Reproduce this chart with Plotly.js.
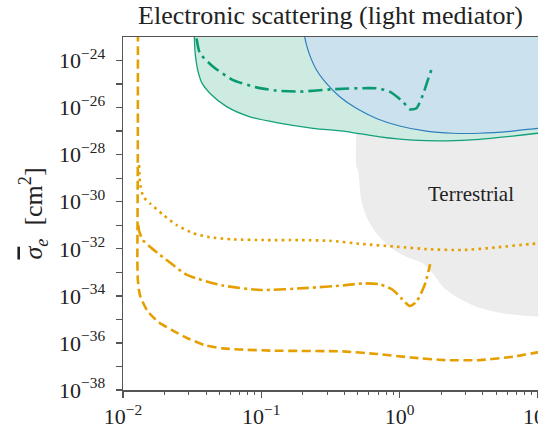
<!DOCTYPE html>
<html>
<head>
<meta charset="utf-8">
<script src="https://cdn.plot.ly/plotly-3.0.1.min.js"></script>
<style>html,body{margin:0;padding:0;background:#fff;overflow:hidden}</style>
</head>
<body>
<div id="chart" style="width:538px;height:429px"></div>
<script>
// All values are log10 of mass (x) and cross-section sigma_e [cm^2] (y)
const dashedLogM = [-1.892, -1.893, -1.895, -1.896, -1.893, -1.884, -1.872, -1.823, -1.749, -1.649, -1.526, -1.401, -1.278, -1.155, -0.906, -0.412, -0.163, 0.084, 0.332, 0.580, 0.828, 0.996, 1.05];
const dashedLogS = [-22.8, -28.0, -31.0, -32.5, -33.3, -33.78, -34.07, -34.65, -35.09, -35.45, -35.82, -36.11, -36.23, -36.28, -36.33, -36.36, -36.47, -36.62, -36.73, -36.73, -36.58, -36.40, -36.34];

const dottedLogM = [-1.884, -1.881, -1.877, -1.853, -1.805, -1.709, -1.613, -1.492, -1.372, -1.204, -0.962, -0.722, -0.505, -0.265, -0.024, 0.217, 0.457, 0.698, 0.939, 1.05];
const dottedLogS = [-28.44, -28.86, -29.22, -29.79, -30.07, -30.56, -30.99, -31.34, -31.51, -31.60, -31.63, -31.63, -31.66, -31.80, -31.91, -32.02, -32.05, -31.94, -31.80, -31.75];

const dashdotLogM = [-1.890, -1.881, -1.856, -1.805, -1.733, -1.637, -1.538, -1.278, -1.005, -0.658, -0.411, -0.265, -0.144, -0.048, 0.012, 0.072, 0.121, 0.181, 0.221];
const dashdotLogS = [-30.99, -31.29, -31.63, -31.91, -32.26, -32.69, -33.11, -33.56, -33.75, -33.66, -33.56, -33.47, -33.51, -33.75, -34.10, -34.43, -34.25, -33.54, -32.65];

const greenDDLogM = [-1.468, -1.444, -1.348, -1.204, -1.035, -0.890, -0.722, -0.482, -0.168, -0.072, 0.024, 0.072, 0.121, 0.168, 0.204, 0.233];
const greenDDLogS = [-23.06, -23.69, -24.26, -24.83, -25.14, -25.28, -25.32, -25.22, -25.18, -25.32, -25.75, -26.07, -26.03, -25.46, -24.83, -24.33];

const greenRegLogM = [-1.485, -1.484, -1.480, -1.472, -1.458, -1.430, -1.372, -1.251, -1.083, -0.890, -0.626, -0.385, -0.144, 0.096, 0.337, 0.578, 0.818, 0.996, 1.1, 1.1, -1.485];
const greenRegLogS = [-22.7, -22.99, -23.55, -24.0, -24.45, -24.95, -25.39, -25.96, -26.39, -26.64, -26.88, -27.02, -27.24, -27.38, -27.41, -27.35, -27.21, -27.09, -27.02, -22.0, -22.0];

const blueRegLogM = [-0.686, -0.686, -0.671, -0.650, -0.601, -0.529, -0.433, -0.313, -0.168, 0.0, 0.193, 0.385, 0.578, 0.818, 0.996, 1.1, 1.1, -0.686];
const blueRegLogS = [-22.7, -22.99, -23.38, -23.77, -24.40, -24.97, -25.54, -26.03, -26.46, -26.78, -27.0, -27.09, -27.09, -27.0, -26.88, -26.83, -22.0, -22.0];

const grayRegLogM = [-0.313, -0.313, -0.301, -0.277, -0.240, -0.168, -0.072, 0.048, 0.168, 0.240, 0.313, 0.409, 0.554, 0.746, 0.939, 0.996, 1.1, 1.1];
const grayRegLogS = [-26.9, -28.51, -28.65, -29.93, -30.64, -31.34, -31.91, -32.34, -32.62, -33.04, -33.61, -34.04, -34.46, -34.74, -34.86, -34.89, -34.91, -26.9];

const xTickExp = [-2, -1, 0, 1];
const xTickText = ["10<sup>−2</sup>", "10<sup>−1</sup>", "10<sup>0</sup>", "10<sup>1</sup>"];
const yTickExp = [-38, -37, -36, -35, -34, -33, -32, -31, -30, -29, -28, -27, -26, -25, -24];
const yTickText = ["10<sup>−38</sup>", "", "10<sup>−36</sup>", "", "10<sup>−34</sup>", "", "10<sup>−32</sup>", "", "10<sup>−30</sup>", "", "10<sup>−28</sup>", "", "10<sup>−26</sup>", "", "10<sup>−24</sup>"];

const titleText = "Electronic scattering (light mediator)";
const yTitleText = "<span style=\"text-decoration:overline\"><i>σ</i></span><sub><i>e</i></sub>  [cm<sup>2</sup>]";
const regionLabel = "Terrestrial";
const regionLabelLogPos = [0.518, -29.65];

const p = v => v.map(e => Math.pow(10, e));

const ORANGE = "#E69F00", GREEN = "#12A07A", BLUE = "#2E7FBC";

const traces = [
  {x: p(grayRegLogM), y: p(grayRegLogS), mode: "lines", fill: "toself", fillcolor: "#ececec", line: {width: 0, color: "#ececec", shape: "spline", smoothing: 0.7}, hoverinfo: "skip"},
  {x: p(greenRegLogM), y: p(greenRegLogS), mode: "lines", fill: "toself", fillcolor: "#cdebe0", line: {width: 1.3, color: GREEN, shape: "spline", smoothing: 0.7}, hoverinfo: "skip"},
  {x: p(blueRegLogM), y: p(blueRegLogS), mode: "lines", fill: "toself", fillcolor: "#cbe2ee", line: {width: 1.2, color: BLUE, shape: "spline", smoothing: 0.7}, hoverinfo: "skip"},
  {x: p(greenDDLogM), y: p(greenDDLogS), mode: "lines", line: {width: 2.6, color: "#0A9A72", dash: "14px,5px,3px,5px", shape: "spline", smoothing: 0.6}},
  {x: p(dottedLogM), y: p(dottedLogS), mode: "lines", line: {width: 2.6, color: ORANGE, dash: "2.6px,4.2px", shape: "spline", smoothing: 0.6}},
  {x: p(dashdotLogM), y: p(dashdotLogS), mode: "lines", line: {width: 2.6, color: ORANGE, dash: "12px,4px,3px,4px", shape: "spline", smoothing: 0.6}},
  {x: p(dashedLogM), y: p(dashedLogS), mode: "lines", line: {width: 2.6, color: ORANGE, dash: "9px,4.5px", shape: "spline", smoothing: 0.5}}
];

const minorX = [];
for (const e of [-2, -1, 0]) for (let k = 2; k <= 9; k++) minorX.push(k * Math.pow(10, e));

const font = "Liberation Serif, Times New Roman, serif";
const layout = {
  width: 538, height: 429,
  margin: {l: 123, r: 0, t: 37, b: 39, pad: 0},
  paper_bgcolor: "#fff", plot_bgcolor: "#fff",
  showlegend: false,
  font: {family: font, color: "#222", size: 22},
  title: {text: titleText, font: {family: font, size: 26, color: "#222"}, x: 0.5, xref: "paper", xanchor: "center", y: 1 - 15 / 429, yref: "container", yanchor: "middle"},
  xaxis: {
    type: "log", range: [-2, 1.0005], showgrid: false, zeroline: false,
    showline: true, linecolor: "#555", linewidth: 1.5, mirror: true,
    ticks: "outside", ticklen: 6, tickwidth: 1.3, tickcolor: "#555",
    tickmode: "array", tickvals: p(xTickExp), ticktext: xTickText,
    ticklabeloverflow: "allow",
    tickfont: {family: font, size: 22, color: "#222"},
    minor: {tickmode: "array", tickvals: minorX, ticks: "outside", ticklen: 3, tickwidth: 1, tickcolor: "#555", showgrid: false}
  },
  yaxis: {
    type: "log", range: [-38, -23], showgrid: false, zeroline: false,
    showline: true, linecolor: "#555", linewidth: 1.5, mirror: true,
    ticks: "outside", ticklen: 6, tickwidth: 1.3, tickcolor: "#555",
    tickmode: "array", tickvals: p(yTickExp), ticktext: yTickText,
    tickfont: {family: font, size: 22, color: "#222"},
    ticklabelstandoff: 6
  },
  annotations: [
    {text: regionLabel, x: regionLabelLogPos[0], y: regionLabelLogPos[1], xref: "x", yref: "y", showarrow: false, font: {family: font, size: 21, color: "#222"}, xanchor: "center", yanchor: "middle"},
    {text: yTitleText, x: (33 - 123) / 415, y: 0.5, xref: "paper", yref: "paper", showarrow: false, textangle: -90, font: {family: font, size: 26, color: "#222"}, xanchor: "center", yanchor: "middle"}
  ]
};

Plotly.newPlot("chart", traces, layout, {staticPlot: true, displayModeBar: false});
</script>
</body>
</html>
